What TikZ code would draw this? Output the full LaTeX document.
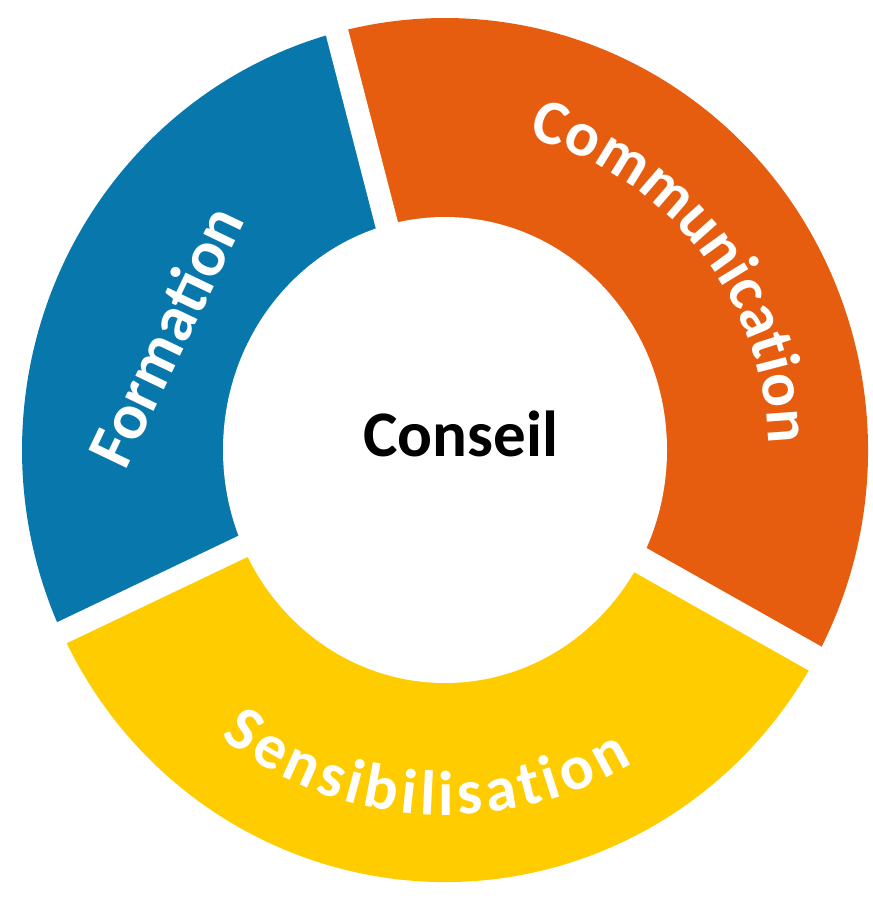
\documentclass[tikz,border=0pt]{standalone}
\usepackage{fontspec}
\setmainfont{Carlito}
\usetikzlibrary{decorations.text}
\definecolor{formblue}{RGB}{8,119,171}
\definecolor{commorange}{RGB}{230,93,16}
\definecolor{sensyellow}{RGB}{255,204,0}
\newcommand\ringfont{\bfseries\fontsize{18}{20}\selectfont\color{white}}

\begin{document}
\begin{tikzpicture}[font=\bfseries\fontsize{18.5}{20}\selectfont,
  gap/.style={white, line width=2.3mm}]
  \useasboundingbox (-4.45,-4.51) rectangle (4.28,4.50);
  \fill[commorange] (0,0) -- (-29.4:4.23 and 4.32)
    arc[start angle=-29.4, end angle=104.5, x radius=4.23, y radius=4.32] -- cycle;
  \fill[formblue] (0,0) -- (104.5:4.23 and 4.32)
    arc[start angle=104.5, end angle=205.5, x radius=4.23, y radius=4.32] -- cycle;
  \fill[sensyellow] (0,0) -- (205.5:4.23 and 4.32)
    arc[start angle=205.5, end angle=330.6, x radius=4.23, y radius=4.32] -- cycle;
  \draw[gap] (0,0) -- (104.5:4.6);
  \draw[gap, line width=2.7mm] (0,0) -- (-29.4:4.6);
  \draw[gap] (0,0) -- (205.5:4.6);
  \fill[white] (0,0) ellipse[x radius=2.22, y radius=2.33];
  \node[text=black] (conseil) at (0.16,0.16) {Conseil};
  \node[text=white, rotate=64.4] (formation) at (-2.80,1.14) {Formation};
  \path[decorate, decoration={text along path, text align=center,
    text={|\ringfont|Communication}}]
    (90:3.23) arc[start angle=90, end angle=-14, radius=3.23];
  \path[decorate, decoration={text along path, text align=fit to path,
    text={|\ringfont|Sensibilisation}}]
    (232:3.65) arc[start angle=232, end angle=301, radius=3.65];
\end{tikzpicture}
\end{document}
